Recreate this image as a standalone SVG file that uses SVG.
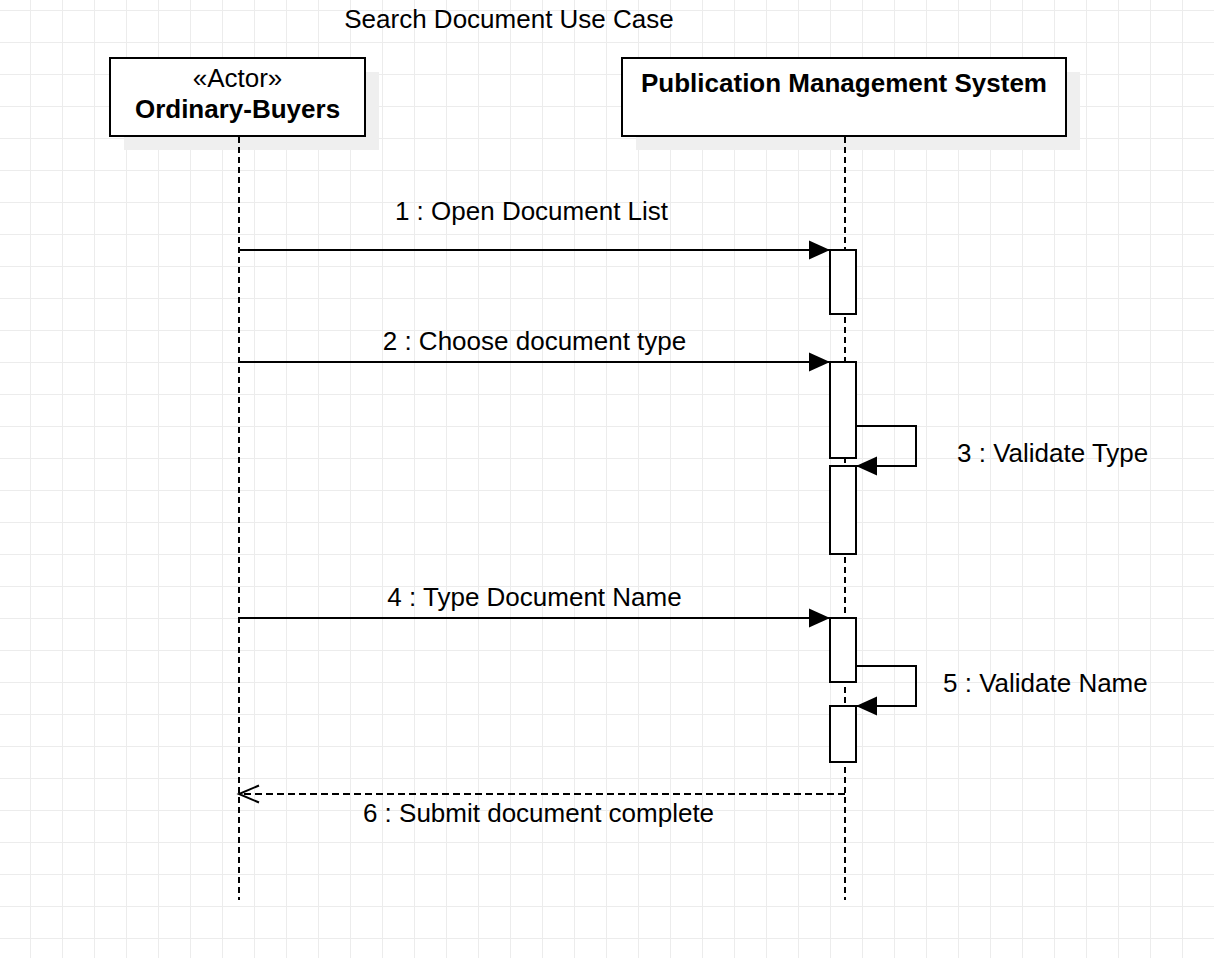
<svg xmlns="http://www.w3.org/2000/svg" width="1214" height="958" viewBox="0 0 1214 958">
<style>
text{font-family:"Liberation Sans",Arial,sans-serif;font-size:26px;fill:#000}
.b{font-weight:bold}
.box{fill:#fff;stroke:#000;stroke-width:2}
.shadow{fill:#efefef}
.life{stroke:#000;stroke-width:2;stroke-dasharray:6 4;fill:none}
.msg{stroke:#000;stroke-width:2;fill:none}
.ret{stroke:#000;stroke-width:2;fill:none;stroke-dasharray:7 4}
.act{fill:#fff;stroke:#000;stroke-width:2}
</style>
<defs>
<pattern id="grid" x="30" y="10" width="32" height="32" patternUnits="userSpaceOnUse">
<path d="M0.5 0V32M0 0.5H32" stroke="#ececec" stroke-width="1" fill="none"/>
</pattern>
<marker id="fill" markerUnits="userSpaceOnUse" markerWidth="22" markerHeight="20" refX="21" refY="10" orient="auto">
<path d="M0 0.5L21 10L0 19.5Z" fill="#000"/>
</marker>
<marker id="open" markerUnits="userSpaceOnUse" markerWidth="24" markerHeight="22" refX="21" refY="11" orient="auto">
<path d="M1 2.5L21 11L1 19.5" fill="none" stroke="#000" stroke-width="2"/>
</marker>
</defs>
<rect width="1214" height="958" fill="#fff"/>
<rect width="1214" height="958" fill="url(#grid)"/>
<text x="509" y="28" text-anchor="middle">Search Document Use Case</text>
<g id="actor">
<rect class="shadow" x="124" y="72" width="255" height="78"/>
<line class="life" x1="239" y1="137" x2="239" y2="900"/>
<rect class="box" x="110" y="58" width="255" height="78"/>
<text x="237.5" y="87" text-anchor="middle">«Actor»</text>
<text class="b" x="237.5" y="118" text-anchor="middle">Ordinary-Buyers</text>
</g>
<g id="pms">
<rect class="shadow" x="636" y="72" width="444" height="78"/>
<line class="life" x1="845" y1="137" x2="845" y2="900"/>
<rect class="box" x="622" y="58" width="444" height="78"/>
<text class="b" x="844" y="92" text-anchor="middle">Publication Management System</text>
</g>
<g id="activations">
<rect class="act" x="830" y="250" width="26" height="64"/>
<rect class="act" x="830" y="362" width="26" height="96"/>
<rect class="act" x="830" y="466" width="26" height="88"/>
<rect class="act" x="830" y="618" width="26" height="64"/>
<rect class="act" x="830" y="706" width="26" height="56"/>
</g>
<g id="connectors">
<line class="msg" x1="239" y1="250" x2="830" y2="250" marker-end="url(#fill)"/>
<line class="msg" x1="239" y1="362" x2="830" y2="362" marker-end="url(#fill)"/>
<polyline class="msg" points="856,426 916,426 916,466 856,466" marker-end="url(#fill)"/>
<line class="msg" x1="239" y1="618" x2="830" y2="618" marker-end="url(#fill)"/>
<polyline class="msg" points="856,666 916,666 916,706 856,706" marker-end="url(#fill)"/>
<line class="ret" x1="845" y1="794" x2="239" y2="794" marker-end="url(#open)"/>
</g>
<g id="labels">
<text x="531.5" y="220" text-anchor="middle">1 : Open Document List</text>
<text x="534.5" y="350" text-anchor="middle">2 : Choose document type</text>
<text x="957" y="462">3 : Validate Type</text>
<text x="534.5" y="606" text-anchor="middle">4 : Type Document Name</text>
<text x="943" y="692">5 : Validate Name</text>
<text x="538.5" y="822" text-anchor="middle">6 : Submit document complete</text>
</g>
</svg>
